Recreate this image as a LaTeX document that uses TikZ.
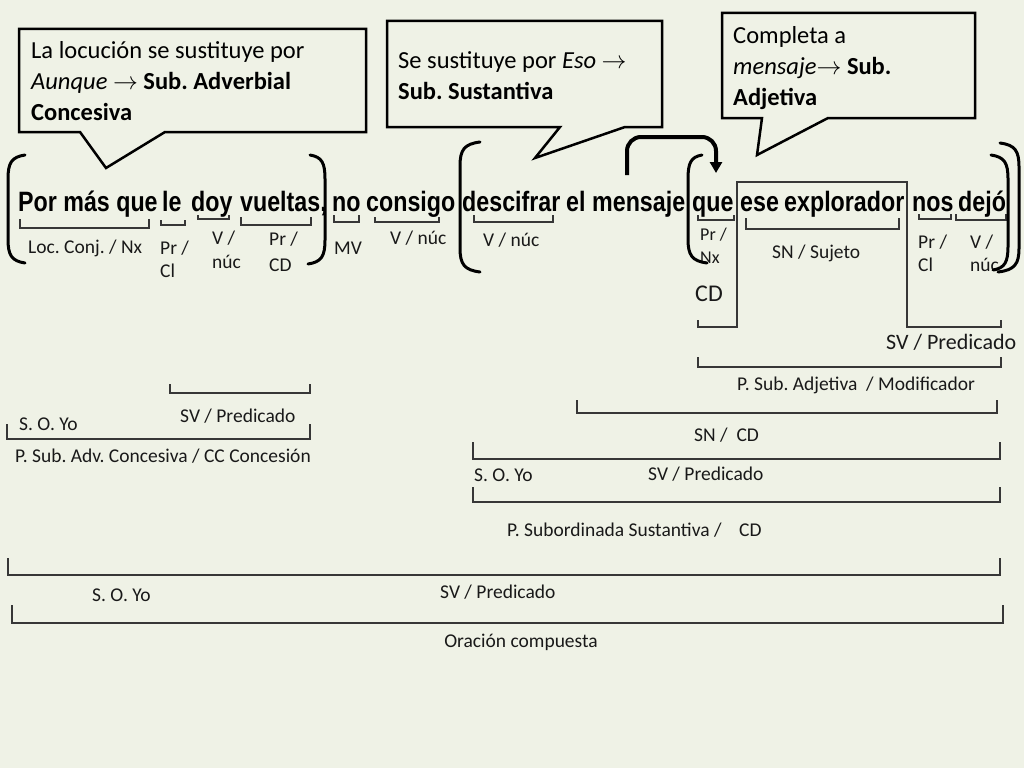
\documentclass[tikz,border=0pt]{standalone}
\usepackage{fontspec}
\setmainfont{Carlito}
\newfontfamily\frasefont[FakeStretch=0.83]{Liberation Sans}
\usetikzlibrary{arrows.meta}
\usetikzlibrary{positioning}
\definecolor{fondo}{RGB}{239,242,230}
\definecolor{raya}{RGB}{55,55,55}
\frenchspacing

\begin{document}
\begin{tikzpicture}[x=1pt,y=-1pt,
  pal/.style={inner sep=0,anchor=base west,font=\frasefont\bfseries\fontsize{28}{30}\selectfont},
  lbl/.style={inner sep=0,anchor=base west,text=black!90,font=\fontsize{19.5}{22}\selectfont},
  lbst/.style={lbl,font=\fontsize{18}{20}\selectfont},
  caja/.style={draw=black,line width=2.5pt,fill=fondo,line join=miter},
  nota/.style={inner sep=0,anchor=north west,align=left,font=\fontsize{24.5}{31}\selectfont},
  brk/.style={draw=raya,line width=1.3pt},
  paren/.style={draw=black,line width=3pt,line cap=round},
  flecha/.style={line width=4pt,rounded corners=14pt,-{Triangle[length=11pt,width=12pt]}}]
  \fill[fondo] (0,0) rectangle (1024,768);
  \useasboundingbox (0,0) rectangle (1024,768);

  % bocadillos
  \draw[caja] (19,29) -- (366,29) -- (366,132) -- (165,132) -- (106,168) -- (80,132) -- (19,132) -- cycle;
  \draw[caja] (387,21) -- (662,21) -- (662,127) -- (625,127) -- (535,158) -- (560,127) -- (387,127) -- cycle;
  \draw[caja] (722,13) -- (975,13) -- (975,118) -- (828,118) -- (757,155) -- (762,118) -- (722,118) -- cycle;
  \node[nota] (n1) at (31,41) {La locución se sustituye por\\\textit{Aunque} $\rightarrow$ \textbf{Sub. Adverbial}\\\textbf{Concesiva}};
  \node[nota] (n2) at (398,51) {Se sustituye por \textit{Eso} $\rightarrow$\\\textbf{Sub. Sustantiva}};
  \node[nota] (n3) at (733,26) {Completa a\\\textit{mensaje}$\rightarrow$ \textbf{Sub.}\\\textbf{Adjetiva}};

  % oracion
  \node[pal] (por) at (18,211) {Por más que};
  \node[pal] (le) at (162,211) {le};
  \node[pal] (doy) at (191,211) {doy};
  \node[pal] (vueltas) at (240,211) {vueltas,};
  \node[pal] (no) at (332,211) {no};
  \node[pal] (consigo) at (366,211) {consigo};
  \node[pal] (descifrar) at (462,211) {descifrar};
  \node[pal] (el) at (566,211) {el};
  \node[pal] (mensaje) at (592,211) {mensaje};
  \node[pal] (que) at (692,211) {que};
  \node[pal] (ese) at (740,211) {ese};
  \node[pal] (explorador) at (784,211) {explorador};
  \node[pal] (nos) at (912,211) {nos};
  \node[pal] (dejo) at (958,211) {dejó};

  \foreach \xa/\xb/\ya/\yb in {20/149/219/228,161/185/220/225,198/229/215/219,241/311/217/225,
      334/359/215/222,375/439/217/222,474/553/215/222,698/734/215/220,746/899/218/229,
      919/951/214/219,956/1006/214/220,
      170/310/384/393,7/310/424/439,698/1001/357/367,577/997/400/413,
      473/1000/442/459,473/1000/487/502,8/1000/558/575,12/1003/605/623}
    \draw[brk] (\xa,\ya) -- (\xa,\yb) -- (\xb,\yb) -- (\xb,\ya);
  \draw[brk] (698,320) -- (698,327) -- (737,327) -- (737,182) -- (907,182) -- (907,327) -- (1001,327) -- (1001,320);

  % funciones
  \node[lbl] (loc) at (28,253) {Loc. Conj. / Nx};
  \node[lbl] (pr1) at (160,254) {Pr /};
  \node[lbl,below=23pt of pr1.base west,anchor=base west] (cl1) {Cl};
  \node[lbl] (v1) at (212,244) {V /};
  \node[lbl,below=24pt of v1.base west,anchor=base west] (nuc1) {núc};
  \node[lbl] (pr2) at (269,245) {Pr /};
  \node[lbl,below=26pt of pr2.base west,anchor=base west] (cd1) {CD};
  \node[lbl] (mv) at (334,254) {MV};
  \node[lbl] (v2) at (390,244) {V / núc};
  \node[lbl] (v3) at (483,246) {V / núc};
  \node[lbst] (pr3) at (700,240) {Pr /};
  \node[lbst,below=23pt of pr3.base west,anchor=base west] (nx) {Nx};
  \node[lbl] (sn1) at (772,258) {SN / Sujeto};
  \node[lbl] (pr4) at (918,248) {Pr /};
  \node[lbl,below=23pt of pr4.base west,anchor=base west] (cl2) {Cl};
  \node[lbl] (v4) at (970,248) {V /};
  \node[lbl,below=23pt of v4.base west,anchor=base west] (nuc2) {núc};
  \node[lbl,font=\fontsize{24}{26}\selectfont] (cd2) at (695,301) {CD};
  \node[lbl,font=\fontsize{22}{24}\selectfont] (sv1) at (886,349) {SV / Predicado};
  \node[lbl] (adj) at (737,390) {P. Sub. Adjetiva \ / Modificador};
  \node[lbl] (sncd) at (694,441) {SN / \ CD};
  \node[lbl] (so2) at (474,481) {S. O. Yo};
  \node[lbl] (sv2) at (648,480) {SV / Predicado};
  \node[lbl] (sust) at (507,536) {P. Subordinada Sustantiva / \ \ \ CD};
  \node[lbl] (sv3) at (180,422) {SV / Predicado};
  \node[lbl] (so1) at (19,430) {S. O. Yo};
  \node[lbl] (adv) at (15,462) {P. Sub. Adv. Concesiva / CC Concesión};
  \node[lbl] (so3) at (92,601) {S. O. Yo};
  \node[lbl] (sv4) at (440,598) {SV / Predicado};
  \node[lbl,anchor=base] (oc) at (521,647) {Oración compuesta};

  % parentesis
  \foreach \xt/\yt/\xs/\xb/\yb in {25/155/8/25/263,480/142/460/480/272,702/155/688/707/263,
      310/155/325/308/264,991/155/1008/993/270,1000/143/1019/998/272}
    \draw[paren] (\xt,\yt) .. controls (\xs*0.8+\xt*0.2,\yt+2) and (\xs,\yt+8) .. (\xs,\yt+24)
      -- (\xs,\yb-24) .. controls (\xs,\yb-8) and (\xs*0.8+\xb*0.2,\yb-2) .. (\xb,\yb);

  \coordinate (arr-a) at (627,175);
  \coordinate (arr-b) at (716,173);
  \draw[flecha] (arr-a) -- (627,137) -- (716,137) -- (arr-b);
\end{tikzpicture}
\end{document}
